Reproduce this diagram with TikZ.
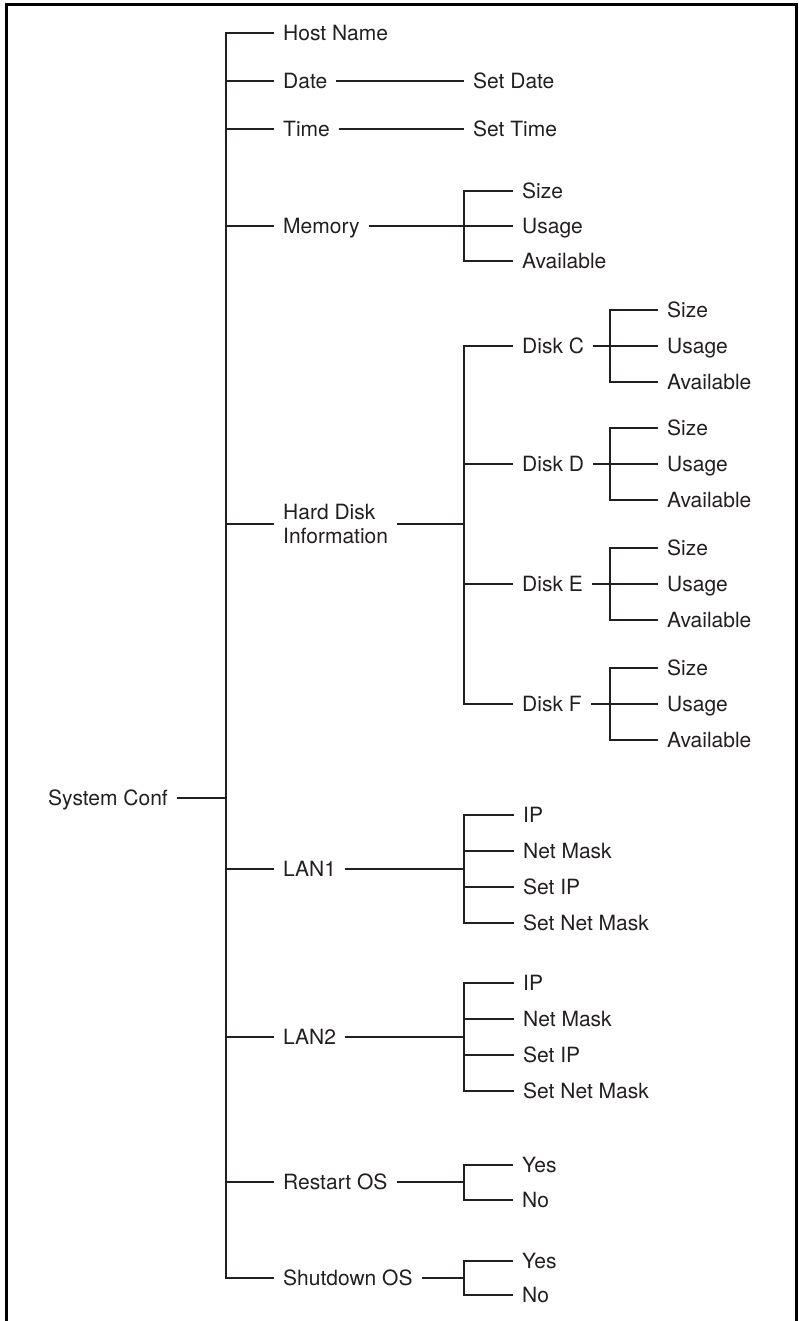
\documentclass[tikz,border=0pt]{standalone}
\usepackage{fontspec}
\setmainfont{TeX Gyre Heros}
\definecolor{ink}{RGB}{35,31,32}

\begin{document}
\begin{tikzpicture}[x=1pt, y=-1pt,
        lbl/.style={anchor=west, inner xsep=9pt, inner ysep=0pt, text=ink,
            font=\fontsize{21}{24}\selectfont},
        entry/.style={lbl, text height=15.1pt, text depth=0pt},
        wire/.style={draw=ink, line width=2.3pt}]
        \useasboundingbox (0, 0) rectangle (798, 1321);
        \draw[line width=3pt] (6.5, 1321) -- (6.5, 4.5) -- (796.5, 4.5) -- (796.5, 1321);

        \coordinate (sys) at (226, 798);
        \coordinate (mem) at (464, 226);
        \coordinate (hdd) at (464, 524);
        \coordinate (dc) at (610, 346);
        \coordinate (dd) at (610, 464);
        \coordinate (de) at (610, 584);
        \coordinate (df) at (610, 704);
        \coordinate (lanA) at (464, 869);
        \coordinate (lanB) at (464, 1037);
        \coordinate (rst) at (464, 1182);
        \coordinate (shd) at (464, 1278);

        \node[entry, anchor=east] (SysConf) at (177, 798) {System Conf};

        \node[entry] (HostName) at (274, 33) {Host Name};
        \node[entry] (Date) at (274, 81) {Date};
        \node[entry] (Time) at (274, 129) {Time};
        \node[entry] (Memory) at (274, 226) {Memory};
        \node[lbl, align=left] (HardDisk) at (274, 524) {Hard Disk\\Information};
        \node[entry] (LAN1) at (274, 869) {LAN1};
        \node[entry] (LAN2) at (274, 1037) {LAN2};
        \node[entry] (RestartOS) at (274, 1182) {Restart OS};
        \node[entry] (ShutdownOS) at (274, 1278) {Shutdown OS};

        \node[entry] (SetDate) at (464, 81) {Set Date};
        \node[entry] (SetTime) at (464, 129) {Set Time};

        \node[entry] (MemSize) at (513, 191) {Size};
        \node[entry] (MemUsage) at (513, 226) {Usage};
        \node[entry] (MemAvail) at (513, 261) {Available};

        \node[entry] (DiskC) at (513, 346) {Disk C};
        \node[entry] (DiskD) at (513, 464) {Disk D};
        \node[entry] (DiskE) at (513, 584) {Disk E};
        \node[entry] (DiskF) at (513, 704) {Disk F};

        \node[entry] (DiskCSize) at (658, 310) {Size};
        \node[entry] (DiskCUsage) at (658, 346) {Usage};
        \node[entry] (DiskCAvail) at (658, 382) {Available};
        \node[entry] (DiskDSize) at (658, 428) {Size};
        \node[entry] (DiskDUsage) at (658, 464) {Usage};
        \node[entry] (DiskDAvail) at (658, 500) {Available};
        \node[entry] (DiskESize) at (658, 548) {Size};
        \node[entry] (DiskEUsage) at (658, 584) {Usage};
        \node[entry] (DiskEAvail) at (658, 620) {Available};
        \node[entry] (DiskFSize) at (658, 668) {Size};
        \node[entry] (DiskFUsage) at (658, 704) {Usage};
        \node[entry] (DiskFAvail) at (658, 740) {Available};

        \node[entry] (LAN1IP) at (514, 815) {IP};
        \node[entry] (LAN1Mask) at (514, 851) {Net Mask};
        \node[entry] (LAN1SetIP) at (514, 887) {Set IP};
        \node[entry] (LAN1SetMask) at (514, 923) {Set Net Mask};
        \node[entry] (LAN2IP) at (514, 983) {IP};
        \node[entry] (LAN2Mask) at (514, 1019) {Net Mask};
        \node[entry] (LAN2SetIP) at (514, 1055) {Set IP};
        \node[entry] (LAN2SetMask) at (514, 1091) {Set Net Mask};

        \node[entry] (RstYes) at (513, 1165) {Yes};
        \node[entry] (RstNo) at (513, 1200) {No};
        \node[entry] (ShdYes) at (513, 1261) {Yes};
        \node[entry] (ShdNo) at (513, 1295) {No};

        \draw[wire] (SysConf.east) -- (sys);
        \draw[wire] (HostName.west) -| (sys) |- (ShutdownOS.west);
        \draw[wire] (sys |- Date.west) -- (Date.west);
        \draw[wire] (sys |- Time.west) -- (Time.west);
        \draw[wire] (sys |- Memory.west) -- (Memory.west);
        \draw[wire] (sys |- HardDisk.west) -- (HardDisk.west);
        \draw[wire] (sys |- LAN1.west) -- (LAN1.west);
        \draw[wire] (sys |- LAN2.west) -- (LAN2.west);
        \draw[wire] (sys |- RestartOS.west) -- (RestartOS.west);

        \draw[wire] (Date.east) -- (SetDate.west);
        \draw[wire] (Time.east) -- (SetTime.west);

        \draw[wire] (Memory.east) -- (MemUsage.west);
        \draw[wire] (MemSize.west) -| (mem) |- (MemAvail.west);

        \draw[wire] (HardDisk.east) -- (hdd);
        \draw[wire] (DiskC.west) -| (hdd) |- (DiskF.west);
        \draw[wire] (hdd |- DiskD.west) -- (DiskD.west);
        \draw[wire] (hdd |- DiskE.west) -- (DiskE.west);

        \draw[wire] (DiskC.east) -- (DiskCUsage.west);
        \draw[wire] (DiskCSize.west) -| (dc) |- (DiskCAvail.west);
        \draw[wire] (DiskD.east) -- (DiskDUsage.west);
        \draw[wire] (DiskDSize.west) -| (dd) |- (DiskDAvail.west);
        \draw[wire] (DiskE.east) -- (DiskEUsage.west);
        \draw[wire] (DiskESize.west) -| (de) |- (DiskEAvail.west);
        \draw[wire] (DiskF.east) -- (DiskFUsage.west);
        \draw[wire] (DiskFSize.west) -| (df) |- (DiskFAvail.west);

        \draw[wire] (LAN1.east) -- (lanA);
        \draw[wire] (LAN1IP.west) -| (lanA) |- (LAN1SetMask.west);
        \draw[wire] (lanA |- LAN1Mask.west) -- (LAN1Mask.west);
        \draw[wire] (lanA |- LAN1SetIP.west) -- (LAN1SetIP.west);

        \draw[wire] (LAN2.east) -- (lanB);
        \draw[wire] (LAN2IP.west) -| (lanB) |- (LAN2SetMask.west);
        \draw[wire] (lanB |- LAN2Mask.west) -- (LAN2Mask.west);
        \draw[wire] (lanB |- LAN2SetIP.west) -- (LAN2SetIP.west);

        \draw[wire] (RestartOS.east) -- (rst);
        \draw[wire] (RstYes.west) -| (rst) |- (RstNo.west);
        \draw[wire] (ShutdownOS.east) -- (shd);
        \draw[wire] (ShdYes.west) -| (shd) |- (ShdNo.west);
    \end{tikzpicture}
\end{document}
